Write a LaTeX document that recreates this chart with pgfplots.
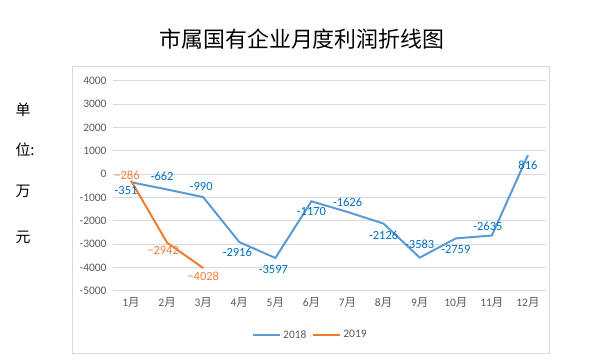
\documentclass[border=0pt]{standalone}
\usepackage{fontspec}
\setmainfont{Carlito}
\newfontfamily\cjk{Noto Sans CJK SC}
\usepackage{pgfplots}
\usepackage{pgfplotstable}
\pgfplotsset{compat=1.18}
\definecolor{cA}{HTML}{5B9BD5}
\definecolor{cB}{HTML}{ED7D31}
\definecolor{lA}{HTML}{0070C0}
\definecolor{lB}{HTML}{F0803C}
\definecolor{gridc}{HTML}{D9D9D9}
\definecolor{txt}{HTML}{595959}

\pgfplotstableread{
x y dx dy lab
1 -351 -5 -8 -351
2 -662 -5 13 -662
3 -990 -2 11 -990
4 -2916 -2 -10 -2916
5 -3597 -2 -12 -3597
6 -1170 0 -10 -1170
7 -1626 0 10 -1626
8 -2126 0 -12 -2126
9 -3583 0 13 -3583
10 -2759 0 -11 -2759
11 -2635 -4 9 -2635
12 816 0 -10 816
}\tA

\pgfplotstableread{
x y dx dy lab
1 -286 -4 5 −286
2 -2942 -4 -8 −2942
3 -4028 0 -8 −4028
}\tB

\begin{document}
\begin{tikzpicture}
\useasboundingbox (0bp,0bp) rectangle (603bp,363bp);
\draw[gridc, line width=0.75bp] (72.7bp,9.5bp) rectangle (549bp,297bp);
\node[font=\cjk\fontsize{22}{26}\selectfont, black] at (302bp,323.5bp) {市属国有企业月度利润折线图};
\foreach \c/\yy in {单/253, 位:/213, 万/172, 元/126}{
  \node[font=\cjk\fontsize{15}{18}\selectfont, anchor=west, black] at (12bp,\yy bp) {\c};
}
\begin{axis}[
  at={(113bp,72.3bp)}, anchor=south west,
  scale only axis, width=433bp, height=210bp,
  xmin=0.5, xmax=12.5, ymin=-5000, ymax=4000,
  xtick={1,...,12},
  xticklabels={{1{\cjk 月}},{2{\cjk 月}},{3{\cjk 月}},{4{\cjk 月}},{5{\cjk 月}},{6{\cjk 月}},{7{\cjk 月}},{8{\cjk 月}},{9{\cjk 月}},{10{\cjk 月}},{11{\cjk 月}},{12{\cjk 月}}},
  ytick={-5000,-4000,...,4000},
  yticklabels={-5000,-4000,-3000,-2000,-1000,0,1000,2000,3000,4000},
  ymajorgrids, grid style={gridc, line width=0.75bp},
  axis line style={draw=none},
  major tick length=0pt,
  tick label style={font=\fontsize{11.5}{13}\selectfont, text=txt},
  yticklabel style={xshift=-3bp},
  xticklabel style={yshift=-3bp},
  legend columns=2,
  legend style={draw=none, at={(0.456,-0.211)}, anchor=center, font=\fontsize{11.5}{13}\selectfont, text=txt, /tikz/every even column/.append style={column sep=4bp}},
  legend image code/.code={\draw[#1] (0bp,0bp) -- (27bp,0bp);},
  clip=false,
  point meta=explicit symbolic,
  visualization depends on={\thisrow{dx} \as \dx},
  visualization depends on={\thisrow{dy} \as \dy},
  nodes near coords,
  every node near coord/.style={anchor=center, xshift=\dx bp, yshift=\dy bp, font=\fontsize{12.5}{14}\selectfont},
]
\addplot[cA, line width=2bp, no marks, every node near coord/.append style={text=lA}] table[x=x, y=y, meta=lab] {\tA};
\addlegendentry{2018}
\addplot[cB, line width=2bp, no marks, every node near coord/.append style={text=lB}] table[x=x, y=y, meta=lab] {\tB};
\addlegendentry{2019}
\end{axis}
\end{tikzpicture}
\end{document}
